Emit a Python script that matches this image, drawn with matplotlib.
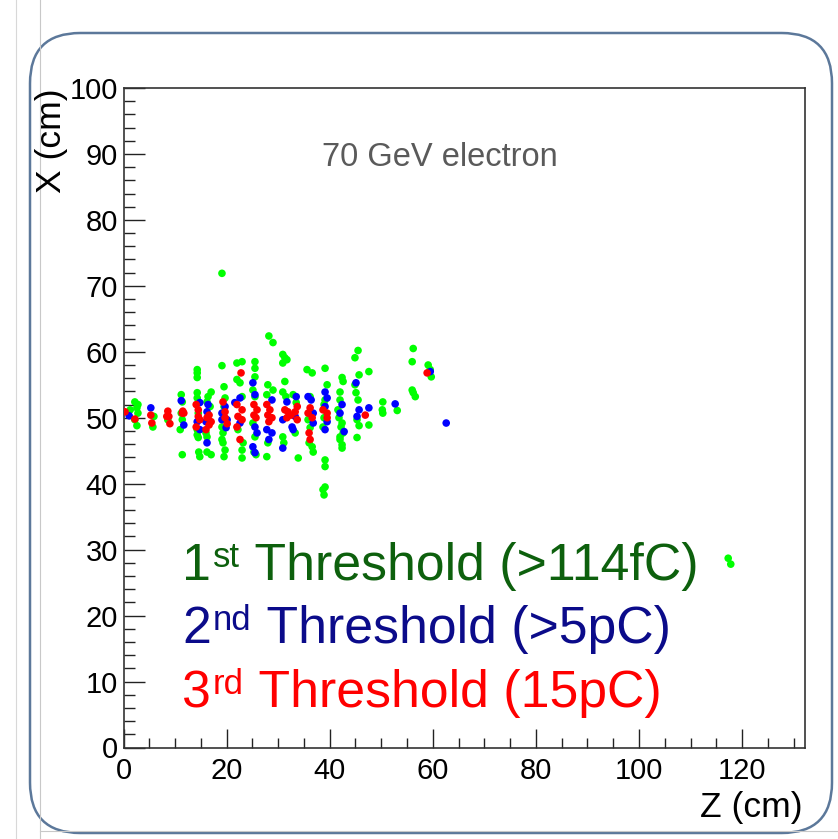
import matplotlib
matplotlib.use("Agg")
import matplotlib.pyplot as plt
from matplotlib.patches import FancyBboxPatch
from matplotlib.lines import Line2D
from matplotlib.ticker import MultipleLocator

plt.rcParams['font.family'] = ['Liberation Sans', 'DejaVu Sans']

# ---- data (Z cm, X cm) ----
green_z = [1.3, 2.2, 2.8, 2.6, 2.8, 2.2, 2.6, 5.9, 5.7, 8.6,
           11.2, 11.4, 11.2, 11.4, 11.0, 11.4,
           14.3, 14.3, 14.3, 14.3, 14.3, 14.5, 14.3, 14.3, 14.5, 14.6, 14.8,
           17.0, 16.4, 16.2, 16.8, 16.0, 16.2, 16.2, 17.0,
           19.1, 19.5, 19.7, 19.5, 19.1, 19.3, 19.1, 19.3, 19.7, 19.5,
           22.0, 23.0, 22.0, 22.6, 23.0, 22.2, 23.2, 23.0, 23.0,
           25.5, 25.5, 25.5, 25.1, 25.5, 25.1, 25.5, 25.3, 25.7,
           28.2, 29.0, 28.0, 29.0, 27.8, 28.0, 27.8,
           30.9, 31.3, 31.7, 30.9, 31.3, 30.9, 31.5, 30.9, 31.1,
           32.9, 33.5, 33.3, 33.9,
           35.6, 36.6, 36.2, 35.8, 36.2, 36.0, 36.6, 36.8,
           39.1, 39.5, 39.1, 38.7, 39.1, 39.1, 38.9, 38.9, 39.1, 38.7, 38.9,
           42.4, 42.0, 42.0, 41.6, 42.4, 42.0, 42.4, 42.6, 42.2, 42.6, 42.0, 42.4, 41.8,
           45.5, 44.9, 45.7, 44.9, 45.1, 45.5, 45.3, 45.7, 45.3,
           47.6, 47.6, 50.3, 50.2, 50.3, 53.1,
           56.2, 56.0, 56.0, 56.2, 56.6, 59.1, 59.5, 59.7,
           19.1, 117.3, 117.8]
green_x = [51.2, 52.4, 52.0, 51.5, 50.7, 49.7, 48.8, 50.2, 48.6, 49.7,
           53.5, 52.4, 50.7, 49.7, 48.2, 44.4,
           57.3, 56.8, 56.1, 53.8, 53.0, 50.7, 48.2, 47.4, 47.0, 44.8, 44.1,
           53.9, 53.2, 52.4, 51.7, 47.7, 47.1, 44.8, 44.4,
           57.9, 54.7, 53.0, 51.7, 48.6, 47.7, 46.7, 46.2, 45.1, 44.1,
           58.3, 58.5, 55.8, 55.3, 53.2, 48.2, 46.2, 45.1, 43.9,
           58.5, 57.5, 56.2, 54.2, 53.2, 49.2, 47.1, 44.8, 44.4,
           62.4, 61.4, 55.0, 54.2, 53.5, 46.2, 44.1,
           59.6, 59.1, 58.8, 58.3, 55.5, 53.9, 53.2, 47.1, 46.2,
           53.5, 52.3, 47.7, 43.9,
           57.3, 56.8, 53.2, 49.7, 48.5, 46.2, 45.6, 44.8,
           57.5, 55.0, 52.7, 48.6, 43.6, 42.6, 52.0, 50.0, 39.5, 39.1, 38.3,
           56.1, 53.9, 52.7, 51.2, 49.2, 47.1, 45.9, 55.5, 48.6, 47.7, 46.7, 45.4, 50.0,
           60.2, 59.1, 56.5, 55.0, 53.8, 52.7, 49.7, 48.8, 47.0,
           57.0, 48.9, 52.4, 51.2, 50.7, 51.1,
           60.5, 58.5, 54.2, 53.8, 53.2, 58.0, 57.3, 56.2,
           71.9, 28.7, 27.8]

blue_z = [1.1, 5.3, 11.2, 11.7, 14.8, 14.3, 14.8, 16.4, 16.2, 16.0, 16.2,
          19.7, 19.1, 19.1, 20.1, 19.9, 22.6, 21.6, 22.6,
          25.1, 25.5, 25.5, 25.9, 25.1, 25.5, 28.8, 27.8, 28.8, 28.2,
          31.7, 30.9, 30.9, 32.9, 33.5, 33.3, 32.7,
          35.8, 36.4, 36.8, 36.8, 39.1, 39.5, 39.1, 39.5, 39.1,
          42.4, 42.0, 42.8, 45.1, 45.7, 45.3, 47.6, 52.7, 59.5, 62.6]
blue_x = [50.3, 51.5, 52.6, 48.9, 52.3, 49.4, 48.2, 52.0, 50.9, 49.4, 46.2,
          51.7, 50.7, 49.7, 49.7, 48.5, 53.0, 52.3, 49.2,
          55.3, 53.5, 48.6, 47.7, 45.6, 44.7, 52.7, 48.2, 47.7, 46.7,
          52.4, 49.7, 45.4, 48.2, 53.2, 50.2, 48.6,
          53.2, 52.7, 50.7, 49.2, 53.9, 53.0, 51.7, 49.4, 48.2,
          52.0, 50.7, 47.9, 55.3, 51.2, 50.2, 51.5, 52.1, 57.0, 49.2]

red_z = [0.3, 2.2, 5.3, 5.5, 8.6, 8.8, 8.4, 9.0, 11.5, 11.4, 11.7,
         14.1, 14.5, 14.5, 14.1, 14.8, 16.6, 16.2, 17.0, 16.0, 16.6,
         19.3, 19.7, 19.7, 20.1, 22.8, 22.0, 23.0, 22.2, 23.0, 22.0, 22.6,
         25.3, 25.9, 25.3, 25.7, 27.8, 28.4, 28.0, 28.8, 28.2,
         31.3, 31.9, 31.7, 32.5, 33.7, 33.3, 33.7,
         36.2, 35.8, 36.6, 36.0, 36.2, 38.7, 39.5, 39.5, 46.9, 58.9]
red_x = [50.9, 49.8, 50.4, 49.2, 51.0, 50.2, 50.2, 49.1, 51.0, 50.7, 50.7,
         52.0, 51.2, 50.2, 48.6, 49.7, 50.4, 50.0, 49.4, 48.2, 48.9,
         52.4, 50.9, 50.0, 49.1, 56.8, 52.0, 51.2, 50.2, 49.7, 48.6, 46.7,
         52.0, 51.2, 50.4, 50.0, 52.0, 51.2, 50.4, 50.0, 49.4,
         51.2, 50.9, 50.0, 50.4, 51.7, 50.9, 49.7,
         51.5, 50.7, 50.0, 47.7, 46.7, 51.2, 50.7, 50.0, 50.4, 56.8]

title = "70 GeV electron"
legend_nums = ["1", "2", "3"]
legend_sups = ["st", "nd", "rd"]
legend_rest = [" Threshold (>114fC)", " Threshold (>5pC)", " Threshold (15pC)"]
legend_colors = ["#0d600d", "#0b0b8a", "#ff0000"]

W, H = 838, 839
fig = plt.figure(figsize=(W / 100, H / 100), dpi=100)
fig.patch.set_facecolor("white")

# decorative frame
fig.add_artist(Line2D([16 / W, 16 / W], [0, 1], color="#d8d8d8", lw=0.8))
fig.add_artist(Line2D([40 / W, 40 / W], [0, 1], color="#c8c8c8", lw=0.8))
fig.add_artist(Line2D([40 / W, 1], [1 - 831 / H, 1 - 831 / H], color="#c8c8c8", lw=0.8))
box = FancyBboxPatch((30 / W, 1 - 833 / H), (832 - 30) / W, (833 - 33) / H,
                     boxstyle="round,pad=0,rounding_size=0.06",
                     transform=fig.transFigure, facecolor="none",
                     edgecolor="#3f6088", lw=1.8, alpha=0.85)
fig.add_artist(box)

ax = fig.add_axes([123.5 / W, 1 - 747.5 / H, (805 - 123.5) / W, (747.5 - 88) / H])
ax.set_facecolor("white")

ax.scatter(green_z, green_x, s=30, c="#00ff00", edgecolors="none", zorder=3)
ax.scatter(blue_z, blue_x, s=30, c="#0000ff", edgecolors="none", zorder=4)
ax.scatter(red_z, red_x, s=30, c="#ff0000", edgecolors="none", zorder=5)

ax.set_xlim(0, 132.2)
ax.set_ylim(0, 100)
ax.xaxis.set_major_locator(MultipleLocator(20))
ax.xaxis.set_minor_locator(MultipleLocator(5))
ax.yaxis.set_major_locator(MultipleLocator(10))
ax.yaxis.set_minor_locator(MultipleLocator(2))
ax.tick_params(axis="both", which="both", direction="in", top=False, right=False,
               colors="#222222", labelcolor="black", width=1.0)
ax.tick_params(axis="y", which="major", length=15, pad=4, labelsize=21)
ax.tick_params(axis="y", which="minor", length=8)
ax.tick_params(axis="x", which="major", length=14, pad=7, labelsize=21)
ax.tick_params(axis="x", which="minor", length=7)
for sp in ax.spines.values():
    sp.set_linewidth(1.2)
    sp.set_color("#333333")

fig.text(52 / W, 1 - 88 / H, "X (cm)", rotation=90, ha="center", va="top", fontsize=25.5)
fig.text(803 / W, 1 - 808 / H, "Z (cm)", ha="right", va="center", fontsize=25.5)
fig.text(440 / W, 1 - 158 / H, title, ha="center", va="center", fontsize=23.5, color="#5a5a5a")

renderer = fig.canvas.get_renderer()
baselines = [580, 643, 707]
main_fs = 37.3
sup_fs = 25
for num, sup, rest, col, b in zip(legend_nums, legend_sups, legend_rest, legend_colors, baselines):
    y0 = 1 - b / H
    t1 = fig.text(182 / W, y0, num, ha="left", va="baseline", fontsize=main_fs, color=col)
    bb1 = t1.get_window_extent(renderer)
    x_sup = bb1.x1 + 2
    sup_base = y0 * H + main_fs * 100 / 72 * 0.716 - sup_fs * 100 / 72 * 0.70
    t2 = fig.text(x_sup / W, sup_base / H, sup, ha="left", va="baseline",
                  fontsize=sup_fs, color=col)
    bb2 = t2.get_window_extent(renderer)
    fig.text((bb2.x1 + 1) / W, y0, rest, ha="left", va="baseline", fontsize=main_fs, color=col)

fig.savefig("out.png", dpi=100)
